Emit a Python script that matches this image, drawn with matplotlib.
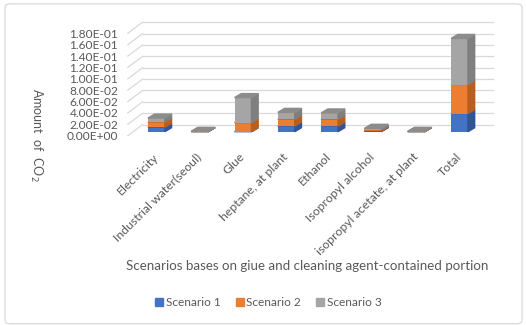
import numpy as np
import matplotlib.pyplot as plt
from matplotlib.patches import Polygon, FancyBboxPatch
from matplotlib.ticker import FuncFormatter
from matplotlib.lines import Line2D

# dados
categorias = ["Electricity", "Industrial water(seoul)", "Glue", "heptane, at plant",
              "Ethanol", "Isopropyl alcohol", "isopropyl acetate, at plant", "Total"]
cenario1 = [0.008, 0.0001, 0.0, 0.010, 0.010, 0.001, 0.0001, 0.032]
cenario2 = [0.009, 0.0001, 0.016, 0.012, 0.012, 0.002, 0.0001, 0.051]
cenario3 = [0.007, 0.0003, 0.044, 0.012, 0.011, 0.003, 0.0003, 0.081]
nomes = ["Scenario 1", "Scenario 2", "Scenario 3"]
yticks = [0.0, 0.02, 0.04, 0.06, 0.08, 0.10, 0.12, 0.14, 0.16, 0.18]

cores = ["#4472C4", "#ED7D31", "#A5A5A5"]
lados = ["#2F5597", "#B85F1F", "#7F7F7F"]
topos = ["#3A62AA", "#C96A25", "#8C8C8C"]
texto = "#595959"

plt.rcParams['font.family'] = ['Lato', 'DejaVu Sans']

fig = plt.figure(figsize=(5.26, 3.25), dpi=100)
ax = fig.add_axes([0.243, 0.5825, 0.694, 0.315])

x = np.arange(len(categorias))
largura = 0.39
dx = 0.155    # profundidade em x
dy = 0.007    # profundidade em y
base0 = 0.007  # chao das barras
parede = 0.0195  # deslocamento da parede do fundo
xmin, xmax = -0.66, 7.77
xwall = -0.32

# grade na parede do fundo
for v in yticks:
    ax.plot([xmin, xwall], [v, v + parede], color="#D9D9D9", lw=0.9, clip_on=False, zorder=0)
    ax.plot([xwall, xmax], [v + parede, v + parede], color="#D9D9D9", lw=0.9, clip_on=False, zorder=0)

series = [cenario1, cenario2, cenario3]
base = np.full(len(categorias), base0)
z = 2
for s, vals in enumerate(series):
    vals = np.array(vals)
    barras = ax.bar(x, vals, largura, bottom=base, color=cores[s], zorder=z, clip_on=False)
    for i, b in enumerate(barras):
        x0 = b.get_x()
        x1 = x0 + b.get_width()
        y0 = b.get_y()
        y1 = y0 + b.get_height()
        lado = Polygon([(x1, y0), (x1 + dx, y0 + dy), (x1 + dx, y1 + dy), (x1, y1)],
                       closed=True, color=lados[s], zorder=z, clip_on=False)
        topo = Polygon([(x0, y1), (x1, y1), (x1 + dx, y1 + dy), (x0 + dx, y1 + dy)],
                       closed=True, color=topos[s], zorder=z, clip_on=False)
        ax.add_patch(lado)
        ax.add_patch(topo)
    base = base + vals
    z += 1

ax.set_xlim(xmin, xmax)
ax.set_ylim(0, 0.18)
ax.set_yticks(yticks)
ax.yaxis.set_major_formatter(FuncFormatter(lambda v, p: f"{v:.2E}"))
ax.set_xticks(x)
ax.set_xticklabels(categorias, rotation=45, ha="right", va="center", rotation_mode="anchor")
ax.tick_params(axis="both", length=0, labelcolor=texto)
ax.tick_params(axis="x", pad=14, labelsize=8.8)
ax.tick_params(axis="y", pad=7, labelsize=8.6)
for sp in ax.spines.values():
    sp.set_visible(False)
ax.patch.set_alpha(0)

fig.text(0.068, 0.585, "Amount  of  CO$_2$", rotation=-90, ha="center", va="center",
         fontsize=9, color=texto)
fig.text(0.584, 0.181, "Scenarios bases on giue and cleaning agent-contained portion",
         ha="center", va="center", fontsize=9.6, color=texto)

alcas = [Line2D([], [], marker="s", linestyle="", color=c, markersize=5.5) for c in cores]
fig.legend(alcas, nomes, loc="center", bbox_to_anchor=(0.508, 0.068), ncol=3, frameon=False,
           fontsize=8.6, labelcolor=texto, handletextpad=0.05, columnspacing=1.1,
           handlelength=1.0)

# moldura do grafico
moldura = FancyBboxPatch((0.0095, 0.004), 0.983, 0.984, boxstyle="round,pad=0,rounding_size=0.01",
                         transform=fig.transFigure, fill=False, edgecolor="#D9D9D9", lw=0.9)
fig.patches.append(moldura)

fig.savefig("out.png", dpi=100)
